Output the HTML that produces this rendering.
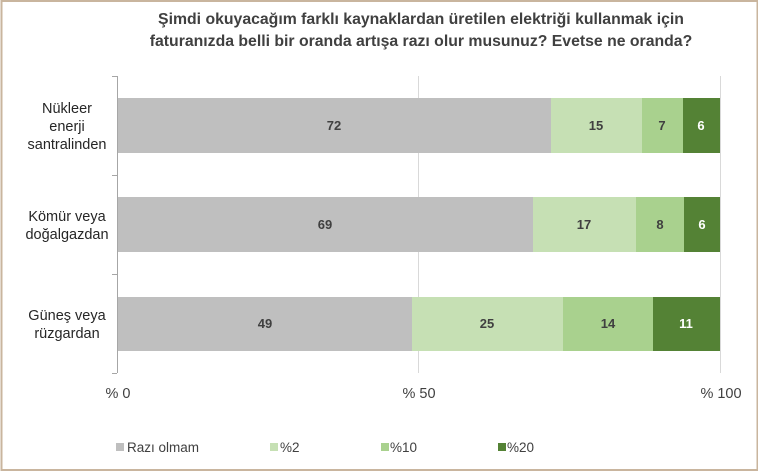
<!DOCTYPE html>
<html><head><meta charset="utf-8"><style>
body{margin:0;background:#fff}
svg{display:block}
text{font-family:"Liberation Sans",sans-serif}
</style></head><body>
<svg width="758" height="473" viewBox="0 0 758 473">
<rect x="0" y="0" width="758" height="473" fill="#fff"/>
<rect x="1.5" y="1" width="756" height="469" fill="none" stroke="#c9b59e" stroke-width="2"/>
<text x="421" y="24" text-anchor="middle" font-size="15.8" font-weight="bold" fill="#404040">Şimdi okuyacağım farklı kaynaklardan üretilen elektriği kullanmak için</text>
<text x="421" y="46" text-anchor="middle" font-size="15.8" font-weight="bold" fill="#404040">faturanızda belli bir oranda artışa razı olur musunuz? Evetse ne oranda?</text>
<g stroke="#d9d9d9" stroke-width="1">
<line x1="418.5" y1="76" x2="418.5" y2="373"/>
<line x1="720.5" y1="76" x2="720.5" y2="373"/>
</g>
<g stroke="#a6a6a6" stroke-width="1">
<line x1="117.5" y1="76" x2="117.5" y2="373"/>
<line x1="112" y1="76.5" x2="117" y2="76.5"/>
<line x1="112" y1="175.5" x2="117" y2="175.5"/>
<line x1="112" y1="274.5" x2="117" y2="274.5"/>
<line x1="112" y1="373.5" x2="117" y2="373.5"/>
</g>
<rect x="118" y="98" width="433" height="55" fill="#bfbfbf"/>
<rect x="551" y="98" width="91" height="55" fill="#c6e0b4"/>
<rect x="642" y="98" width="41" height="55" fill="#a9d18e"/>
<rect x="683" y="98" width="37" height="55" fill="#548235"/>
<rect x="118" y="197" width="415" height="55" fill="#bfbfbf"/>
<rect x="533" y="197" width="103" height="55" fill="#c6e0b4"/>
<rect x="636" y="197" width="48" height="55" fill="#a9d18e"/>
<rect x="684" y="197" width="36" height="55" fill="#548235"/>
<rect x="118" y="297" width="294" height="54" fill="#bfbfbf"/>
<rect x="412" y="297" width="151" height="54" fill="#c6e0b4"/>
<rect x="563" y="297" width="90" height="54" fill="#a9d18e"/>
<rect x="653" y="297" width="67" height="54" fill="#548235"/>
<g font-size="13" font-weight="bold" text-anchor="middle" fill="#404040">
<text x="334" y="130">72</text><text x="596" y="130">15</text><text x="662" y="130">7</text><text x="701" y="130" fill="#fff">6</text>
<text x="325" y="229">69</text><text x="584" y="229">17</text><text x="660" y="229">8</text><text x="702" y="229" fill="#fff">6</text>
<text x="265" y="328">49</text><text x="487" y="328">25</text><text x="608" y="328">14</text><text x="686" y="328" fill="#fff">11</text>
</g>
<g font-size="14.5" text-anchor="middle" fill="#262626">
<text x="67" y="113">Nükleer</text><text x="67" y="131">enerji</text><text x="67" y="149">santralinden</text>
<text x="67" y="221">Kömür veya</text><text x="67" y="239">doğalgazdan</text>
<text x="67" y="320">Güneş veya</text><text x="67" y="338">rüzgardan</text>
</g>
<g font-size="14.5" fill="#404040" text-anchor="middle">
<text x="118" y="398">% 0</text><text x="419" y="398">% 50</text><text x="721" y="398">% 100</text>
</g>
<g font-size="13.5" fill="#404040">
<rect x="116" y="443" width="8" height="8" fill="#bfbfbf"/><text x="127" y="452">Razı olmam</text>
<rect x="270" y="443" width="8" height="8" fill="#c6e0b4"/><text x="280" y="452">%2</text>
<rect x="381" y="443" width="8" height="8" fill="#a9d18e"/><text x="390" y="452">%10</text>
<rect x="498" y="443" width="8" height="8" fill="#548235"/><text x="507" y="452">%20</text>
</g>
</svg>
</body></html>
